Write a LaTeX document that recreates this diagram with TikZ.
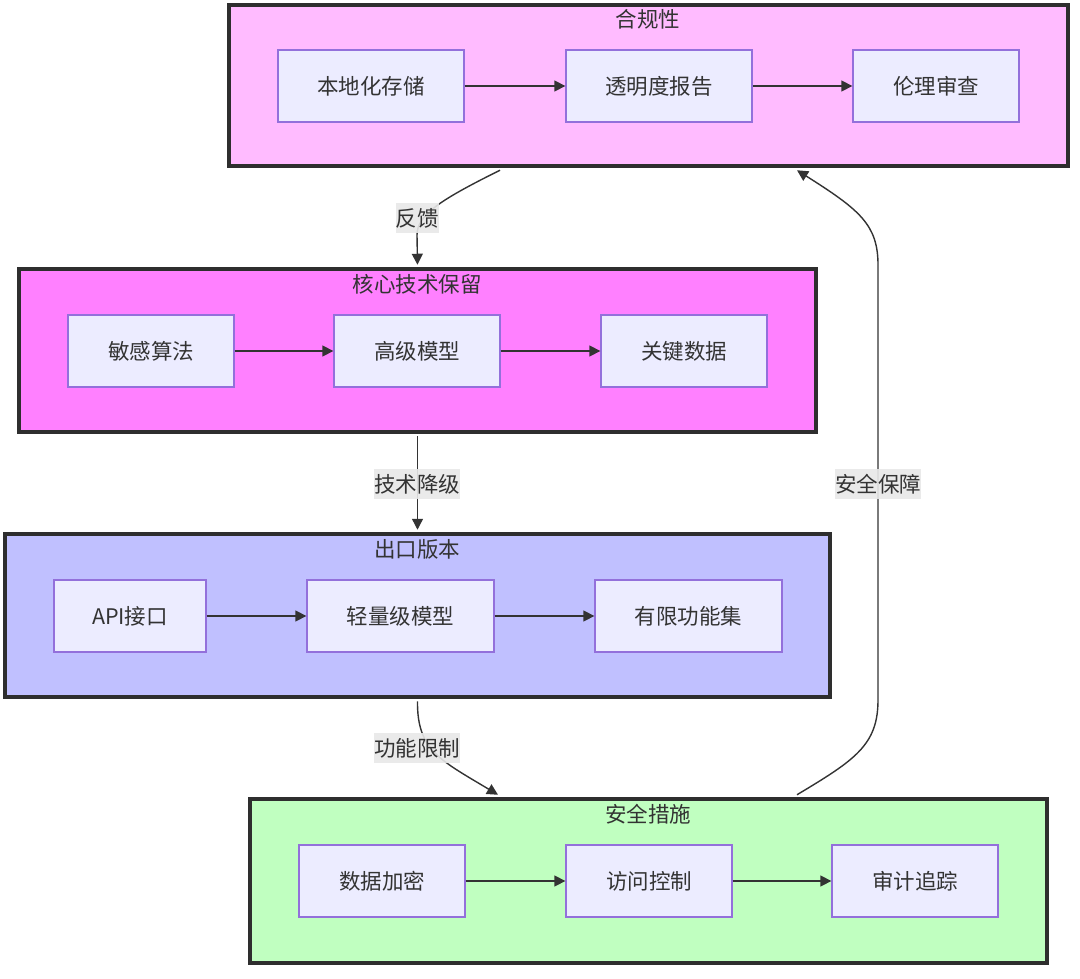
\documentclass[tikz,border=0pt]{standalone}
\usepackage{fontspec}
\setmainfont{Noto Sans CJK SC}
\usetikzlibrary{arrows.meta}
\definecolor{ink}{HTML}{333333}
\definecolor{nodefill}{HTML}{ECECFF}
\definecolor{nodeline}{HTML}{9370DB}
\definecolor{cA}{HTML}{FFBBFF}
\definecolor{cB}{HTML}{FF80FF}
\definecolor{cC}{HTML}{C0C0FF}
\definecolor{cD}{HTML}{C0FFC0}
\definecolor{lblbg}{HTML}{E8E8E8}
\tikzset{
  cluster/.style={draw=ink!90!black, line width=4.5pt, inner sep=0pt},
  ctitle/.style={text=ink, font=\fontsize{21.5}{25}\selectfont, inner sep=0pt},
  box/.style={draw=nodeline, line width=1.3pt, fill=nodefill, text=ink, minimum height=72pt, inner sep=0pt, font=\fontsize{21.5}{25}\selectfont},
  link/.style={draw=ink, line width=1.4pt, -{Triangle[length=11pt,width=11pt]}},
  elabel/.style={fill=lblbg, fill opacity=0.9, text opacity=1, text=ink, inner xsep=0pt, inner ysep=5pt, font=\fontsize{21.5}{25}\selectfont},
}
\begin{document}
\begin{tikzpicture}[x=1pt,y=-1pt]
\useasboundingbox (0,0) rectangle (1080,979);
% clusters
\node[cluster, fill=cA, minimum width=839pt, minimum height=161pt] (c1) at (648.5,85.5) {};
\node[cluster, fill=cB, minimum width=797pt, minimum height=163pt] (c2) at (417.5,350.5) {};
\node[cluster, fill=cC, minimum width=825pt, minimum height=163pt] (c3) at (417.5,615.5) {};
\node[cluster, fill=cD, minimum width=797pt, minimum height=164pt] (c4) at (648.5,881) {};
\node[ctitle] (t1) at (648,19) {合规性};
\node[ctitle] (t2) at (417,284) {核心技术保留};
\node[ctitle] (t3) at (417,549) {出口版本};
\node[ctitle] (t4) at (648,814) {安全措施};
% nodes row 1
\node[box, minimum width=186pt] (a1) at (371,86) {本地化存储};
\node[box, minimum width=186pt] (a2) at (659,86) {透明度报告};
\node[box, minimum width=166pt] (a3) at (936,86) {伦理审查};
% row 2
\node[box, minimum width=166pt] (b1) at (151,351) {敏感算法};
\node[box, minimum width=166pt] (b2) at (417,351) {高级模型};
\node[box, minimum width=166pt] (b3) at (684,351) {关键数据};
% row 3
\node[box, minimum width=152pt] (d1) at (130,616) {API接口};
\node[box, minimum width=187pt] (d2) at (400.5,616) {轻量级模型};
\node[box, minimum width=187pt] (d3) at (688.5,616) {有限功能集};
% row 4
\node[box, minimum width=166pt] (e1) at (382,881) {数据加密};
\node[box, minimum width=166pt] (e2) at (649,881) {访问控制};
\node[box, minimum width=166pt] (e3) at (915,881) {审计追踪};
% inner edges
\draw[link] (a1) -- (a2);
\draw[link] (a2) -- (a3);
\draw[link] (b1) -- (b2);
\draw[link] (b2) -- (b3);
\draw[link] (d1) -- (d2);
\draw[link] (d2) -- (d3);
\draw[link] (e1) -- (e2);
\draw[link] (e2) -- (e3);
% inter-cluster edges
\coordinate (s1) at ([xshift=-148.5pt,yshift=-2pt]c1.south);
\coordinate (k1) at (417,235);
\draw[link] (s1) .. controls (440,200) and (417,215) .. (k1) -- ([yshift=2pt]c2.north);
\node[elabel] (l1) at (417,218) {反馈};

\draw[link] ([yshift=-2pt]c2.south) -- ([yshift=2pt]c3.north);
\node[elabel] (l2) at (417,484) {技术降级};

\coordinate (s3) at ([yshift=-2pt]c3.south);
\coordinate (k3) at ([xshift=-150.5pt,yshift=2pt]c4.north);
\draw[link] (s3) .. controls (417,750) and (440,760) .. (k3);
\node[elabel] (l3) at (417,748) {功能限制};

\coordinate (s4) at ([xshift=148.5pt,yshift=2pt]c4.north);
\coordinate (k4) at ([xshift=148.5pt,yshift=-2pt]c1.south);
\draw[link] (s4) .. controls (855,760) and (878,745) .. (878,700) -- (878,265) .. controls (878,225) and (860,210) .. (k4);
\node[elabel] (l4) at (878,484) {安全保障};
\end{tikzpicture}
\end{document}
